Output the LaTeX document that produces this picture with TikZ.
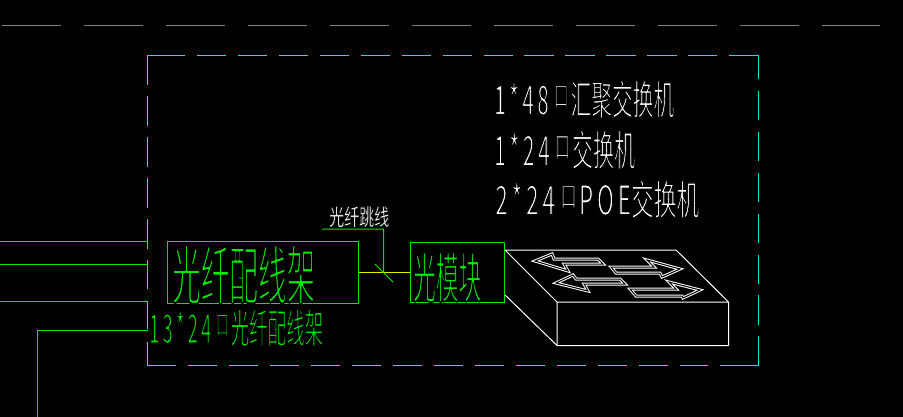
\documentclass[tikz,border=0pt]{standalone}
\usepackage{fontspec}
\newfontfamily\cadfont{Noto Sans CJK SC}
\definecolor{cadgreen}{RGB}{0,235,0}
\definecolor{cadcyan}{RGB}{0,235,235}
\definecolor{cadyellow}{RGB}{235,235,0}
\definecolor{cadgray}{RGB}{128,128,128}
\newcommand{\cadtext}[4][.3]{\resizebox*{#2pt}{#3pt}{\cadfont\special{pdf:code q 2 Tr #1 w 0 0 0 RG}#4\special{pdf:code Q}}}
\newcommand{\kou}{\hspace{.25em}\raisebox{.2em}{\fontsize{7}{7}\selectfont 口}\hspace{.1em}}
\tikzset{
  cadlabel/.style={inner sep=0pt, anchor=north west},
  greenline/.style={cadgreen, line width=1pt},
  whiteline/.style={white, line width=1pt},
  boxedge/.style={cadcyan, line width=1pt},
  greenbox/.style={draw=cadgreen, line width=1pt, inner sep=0pt},
  netarrow/.style={white, line width=1pt, double=black, double distance=1pt, line join=miter}
}
\begin{document}
\begin{tikzpicture}[x=1pt, y=-1pt, line join=round]
\fill[black] (0,0) rectangle (903,417);
\useasboundingbox (0,0) rectangle (903,417);
% top line
\draw[cadgray, line width=1pt, dash pattern=on 59pt off 23pt] (2,25.5)--(880,25.5);
% incoming lines
\path
(0,241.5) coordinate (A1)
(147.5,241.5) coordinate (B1)
(0,264.5) coordinate (A2)
(147.5,264.5) coordinate (B2)
(0,301.5) coordinate (A3)
(147.5,301.5) coordinate (B3)
(37.5,417) coordinate (A4)
(37.5,330.5) coordinate (C4)
(147.5,330.5) coordinate (B4);
\draw[greenline] (A1)--(B1) (A3)--(B3) (A4)--(C4)--(B4);
\draw[greenline, line width=1.4pt] (A2)--(B2);
% room outline
\foreach \a/\b in {147.5/185,197/226,238/267,279/308,320/349,361/390,402/431,443/472,484/513,524/554,565/595,606/636,647/677,688/717,729/758.5}
\draw[boxedge] (\a,55.5)--(\b,55.5);
\foreach \a/\b in {147.5/176,188/217,229/258,270/299,311/340,352/381,393/422,434/463,475/504,516/545,557/586,598/627,639/668,680/708,720/758.5}
\draw[boxedge] (\a,365.5)--(\b,365.5);
\foreach \a/\b in {55.5/79,91/120,132/161,173/202,214/243,255/284,295/325,336/365.5}
\draw[boxedge] (758.5,\a)--(758.5,\b);
\foreach \a/\b in {55.5/85,96/126,137/167,178/208,219/249,260/289,301/329,342/365.5}
\draw[boxedge] (147.5,\a)--(147.5,\b);
% frame and module
\node[greenbox, minimum width=191pt, minimum height=62pt] (odf) at (263,272.5) {};
\node[greenbox, minimum width=94pt, minimum height=60.5pt] (sfp) at (457.5,272.25) {};
\draw[cadyellow, line width=1pt] (odf.east|-0,272.5)--(sfp.west|-0,272.5);
\path (322,229) coordinate (L1) (383.5,229) coordinate (L2) (383.5,272.5) coordinate (L3)
(375,264) coordinate (T1) (393,282) coordinate (T2);
\draw[greenline] (L1)--(L2)--(L3) (T1)--(T2);
% switch
\path
(505,250) coordinate (a)
(676,250) coordinate (b)
(728.5,302) coordinate (c)
(557,302) coordinate (d)
(557,345.5) coordinate (e)
(728.5,345.5) coordinate (f)
(505,295) coordinate (g);
\draw[whiteline] (a)--(b)--(c)--(f)--(e)--(d)--(c) (a)--(d) (g)--(e);
\draw[netarrow] (535,261)--(552,254)--(554,259)--(598,259)--(603,264)--(564,264)--(568,271)--cycle;
\draw[netarrow] (680,269)--(647,260)--(654,267)--(611,267)--(616,273)--(660,273)--(662,277)--cycle;
\draw[netarrow] (556,283)--(573,275)--(576,279)--(620,279)--(625,284)--(584,284)--(588,291)--cycle;
\draw[netarrow] (700,290)--(669,282)--(676,289)--(630,289)--(636,296)--(682,296)--(683,298)--cycle;
% labels
\node[cadlabel, white] (t1) at (494,80) {\cadtext{180}{38}{1\,*\,4\,8\kou 汇聚交换机}};
\node[cadlabel, white] (t2) at (494,130) {\cadtext{141}{39}{1\,*\,2\,4\kou 交换机}};
\node[cadlabel, white] (t3) at (495,180) {\cadtext{204}{38}{2\,*\,2\,4\kou P\,O\,E交换机}};
\node[cadlabel, white] (t4) at (329,206) {\cadtext[.12]{60}{21}{光纤跳线}};
\node[cadlabel, cadgreen] (t5) at (172,245) {\cadtext[.33]{143}{59}{光纤配线架}};
\node[cadlabel, cadgreen] (t6) at (413,252) {\cadtext[.3]{68}{50}{光模块}};
\node[cadlabel, cadgreen] (t7) at (149,309) {\cadtext{174}{37}{1\,3\,*\,2\,4\kou 光纤配线架}};
\end{tikzpicture}
\end{document}
